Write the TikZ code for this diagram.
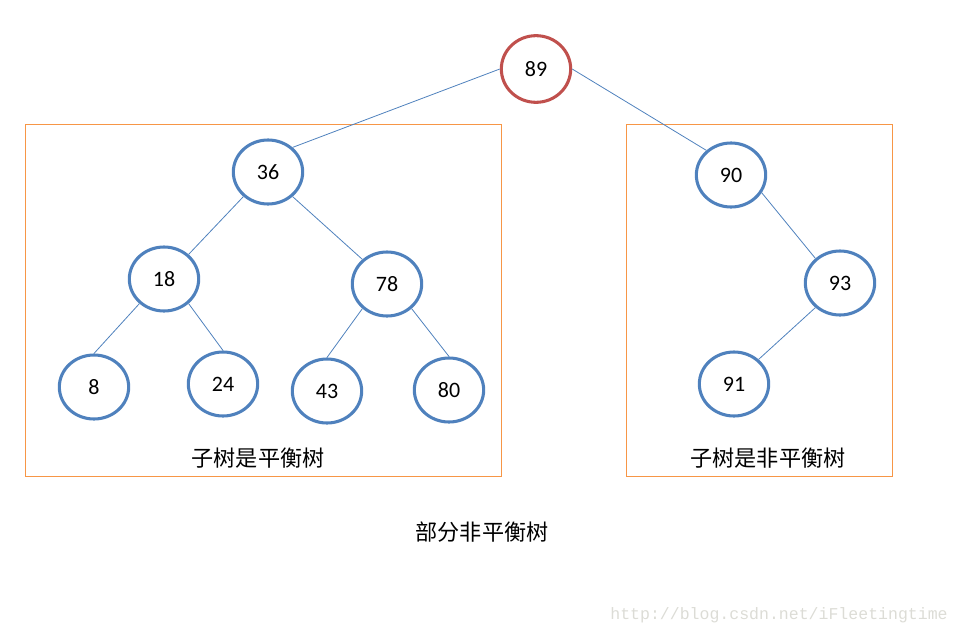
\documentclass[tikz,border=0pt]{standalone}
\usepackage{fontspec}
\setmainfont{Carlito}
\newfontfamily\cjk{Noto Sans CJK SC}
\newfontfamily\wmark{Liberation Mono}
\usetikzlibrary{shapes.geometric}
\definecolor{nodeblue}{HTML}{4F81BD}
\definecolor{rootred}{HTML}{C0504D}
\definecolor{grporange}{HTML}{F79646}
\definecolor{wmgray}{HTML}{DCDCD6}

\begin{document}
\begin{tikzpicture}[
    x=0.75pt, y=-0.75pt,
    every node/.style={font=\fontsize{16.5}{18}\selectfont},
    keynode/.style={ellipse, draw=nodeblue, line width=2.3pt, minimum width=52pt, minimum height=48pt, inner sep=0pt},
    rootnode/.style={keynode, draw=rootred, minimum width=52pt, minimum height=50pt},
    edge/.style={draw=nodeblue, line width=0.6pt},
    grp/.style={draw=grporange, line width=0.75pt},
    caption/.style={font=\cjk\fontsize{16.6}{18}\selectfont}
]
\useasboundingbox (0,0) rectangle (961,635);

% the two subtree boxes
\draw[grp] (25,125) rectangle (501,476);
\draw[grp] (626,125) rectangle (892,476);

\node[rootnode] (n89) at (536,69)  {89};
\node[keynode]  (n36) at (268,172) {36};
\node[keynode]  (n18) at (164,279) {18};
\node[keynode]  (n78) at (387,284) {78};
\node[keynode]  (n8)  at (94,387)  {8};
\node[keynode]  (n24) at (223,384) {24};
\node[keynode]  (n43) at (327,391) {43};
\node[keynode]  (n80) at (449,390) {80};
\node[keynode]  (n90) at (731,175) {90};
\node[keynode]  (n93) at (840,283) {93};
\node[keynode]  (n91) at (734,384) {91};

\draw[edge] (n89.west) -- (n36.45);
\draw[edge] (n89.east) -- (n90.135);
\draw[edge] (n36.225) -- (n18.45);
\draw[edge] (n36.-45) -- (n78.135);
\draw[edge] (n18.225) -- (n8.north);
\draw[edge] (n18.-45) -- (n24.north);
\draw[edge] (n78.225) -- (n43.north);
\draw[edge] (n78.-45) -- (n80.north);
\draw[edge] (n90.-30) -- (n93.135);
\draw[edge] (n93.225) -- (n91.45);

\node[caption] (lblbal)   at (258,458) {子树是平衡树};
\node[caption] (lblunbal) at (768,458) {子树是非平衡树};
\node[caption] (title)    at (482,532) {部分非平衡树};
\node[font=\wmark\fontsize{12.4}{14}\selectfont, text=wmgray] (wm) at (779,615) {http://blog.csdn.net/iFleetingtime};
\end{tikzpicture}
\end{document}
